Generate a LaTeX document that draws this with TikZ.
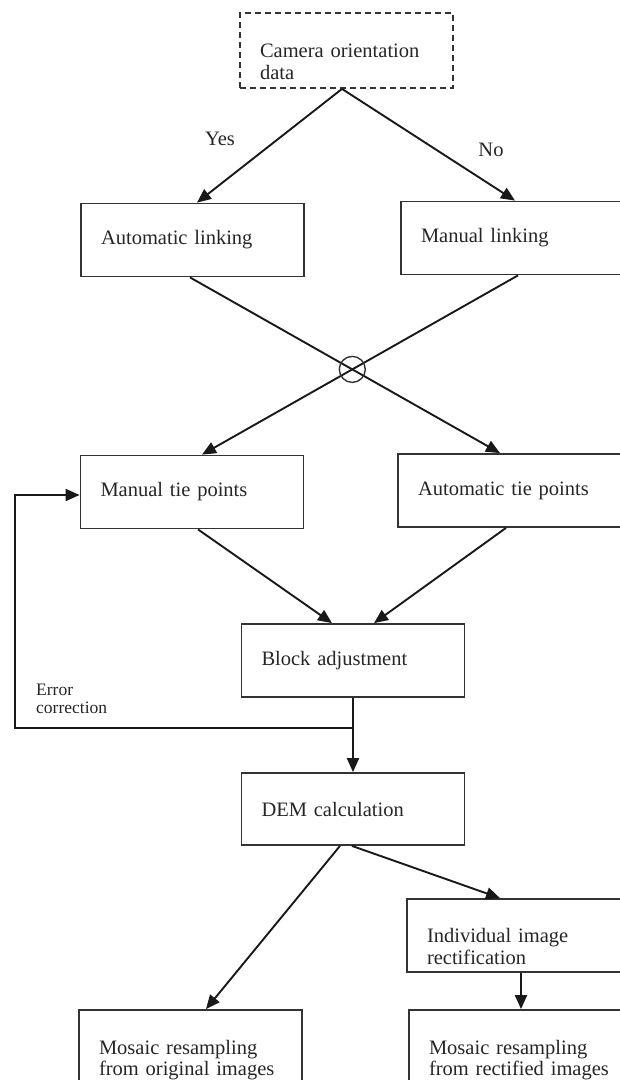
\documentclass[tikz,border=0pt]{standalone}
\usepackage{fontspec}
\setmainfont{Liberation Serif}
\usetikzlibrary{arrows.meta,calc}
\newcommand{\twoline}[1]{\raisebox{0pt}[14pt][0pt]{\parbox[t]{183pt}{\raggedright #1}}}
\begin{document}
\begin{tikzpicture}[x=1pt,y=-1pt,
  box/.style={draw=black!80, line width=1.8pt, minimum width=223pt, minimum height=73pt,
    inner xsep=20pt, inner ysep=0pt, text width=183pt, align=left,
    font=\fontsize{20.5}{21.5}\selectfont, text=black!85},
  arr/.style={draw=black!90, line width=1.9pt, -{Triangle[length=14pt,width=12pt]}},
  lbl/.style={font=\fontsize{20.5}{21.5}\selectfont, text=black!85, inner sep=0pt}]
\useasboundingbox (0,0) rectangle (620,1080);
\clip (0,0) rectangle (620,1080);

% boxes
\node[box, dashed, dash pattern=on 6pt off 4pt, minimum width=213pt, minimum height=75pt, text width=173pt] (cam) at (346.5,50.5) {\twoline{Camera orientation\\data}};
\node[box] (autol) at (192.5,240) {Automatic linking};
\node[box] (manl) at (512.5,238) {Manual linking};
\node[box] (mtp) at (192,492) {Manual tie points};
\node[box] (atp) at (509.5,490.5) {Automatic tie points};
\node[box, minimum width=222pt] (block) at (353,660.5) {Block adjustment};
\node[box, minimum width=222pt, minimum height=72pt] (dem) at (353,809) {DEM calculation};
\node[box] (ind) at (518.5,935.5) {\twoline{Individual image\\rectification}};
\node[box, minimum height=74pt] (mo) at (190.5,1047) {\twoline{Mosaic resampling\\from original images}};
\node[box, minimum height=74pt] (mr) at (520.5,1047) {\twoline{Mosaic resampling\\from rectified images}};

% labels
\node[lbl] (yes) at (220,139) {Yes};
\node[lbl] (no) at (491,150) {No};
\node[font=\fontsize{17.5}{18}\selectfont, text=black!85, align=left, anchor=west, inner sep=0pt] (err) at (36,699) {Error\\correction};

% camera -> linking
\draw[arr] ([xshift=-4.5pt]cam.south) -- ([xshift=4.5pt]autol.north);
\draw[arr] ([xshift=-4.5pt]cam.south) -- ([xshift=2.5pt]manl.north);

% crossing
\coordinate (c1a) at ([xshift=-2.5pt]autol.south);
\coordinate (c1b) at ([xshift=-9.5pt]atp.north);
\coordinate (c2a) at ([xshift=5.5pt]manl.south);
\coordinate (c2b) at ([xshift=10pt]mtp.north);
\coordinate (X) at (intersection of c1a--c1b and c2a--c2b);
\draw[arr] (c1a) -- (c1b);
\draw[arr] (c2a) -- (c2b);
\node[draw=black!80, line width=1.4pt, circle, minimum size=26pt, inner sep=0pt] (cr) at (X) {};

% tie points -> block
\draw[arr] ([xshift=6pt]mtp.south) -- ([xshift=-21pt]block.north);
\draw[arr] ([xshift=-3.5pt]atp.south) -- ([xshift=21pt]block.north);

% block -> dem and feedback
\draw[arr] (block) -- (dem);
\coordinate (fbj) at ($(block.south)!0.4!(dem.north)$);
\coordinate (fbc) at (15,0 |- fbj);
\draw[arr] (fbj) -- (fbc) |- ([yshift=-3pt]mtp.west);

% dem -> outputs
\draw[arr] ([xshift=-13pt]dem.south) -- ([xshift=15.5pt]mo.north);
\draw[arr] ([xshift=-1pt]dem.south) -- ([xshift=-18.5pt]ind.north);
\draw[arr] ([xshift=2.5pt]ind.south) -- ([xshift=0.5pt]mr.north);
\end{tikzpicture}
\end{document}
